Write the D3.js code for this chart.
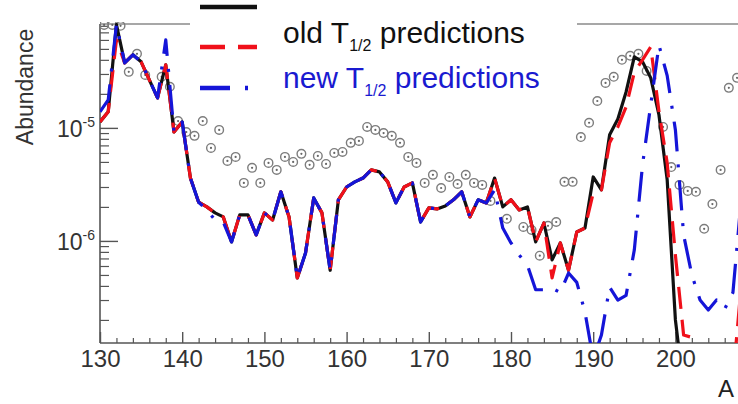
<!DOCTYPE html>
<html>
<head>
<meta charset="utf-8">
<script src="https://cdn.jsdelivr.net/npm/d3@7"></script>
<style>
  body { margin: 0; background: #fff; }
  svg { display: block; font-family: 'Liberation Sans', Arial, Helvetica, sans-serif; }
</style>
</head>
<body>
<div id="chart"></div>
<script>
// mass number A of the calculated curves
const massNumbers = [
  130, 131, 132, 133, 134, 135, 136, 137, 138, 139,
  140, 141, 142, 143, 144, 145, 146, 147, 148, 149,
  150, 151, 152, 153, 154, 155, 156, 157, 158, 159,
  160, 161, 162, 163, 164, 165, 166, 167, 168, 169,
  170, 171, 172, 173, 174, 175, 176, 177, 178, 179,
  180, 181, 182, 183, 184, 185, 186, 187, 188, 189,
  190, 191, 192, 193, 194, 195, 196, 197, 198, 199,
  200, 201, 202, 203, 204, 205, 206, 207, 208
]

// black solid curve (A = 130 .. 201)
const blackCurve = [
  1.13e-5, 1.39e-5, 8.2e-5, 3.76e-5, 4.43e-5, 3.84e-5, 2.66e-5, 1.84e-5, 3.61e-5, 9.2e-6,
  1.13e-5, 3.6e-6, 2.2e-6, 2.0e-6, 1.77e-6, 1.63e-6, 9.8e-7, 1.7e-6, 1.7e-6, 1.13e-6,
  1.77e-6, 1.53e-6, 2.72e-6, 1.63e-6, 4.7e-7, 7.8e-7, 2.4e-6, 1.77e-6, 5.5e-7, 2.31e-6,
  3.0e-6, 3.33e-6, 3.6e-6, 4.25e-6, 4.08e-6, 3.33e-6, 2.17e-6, 3.0e-6, 3.26e-6, 1.47e-6,
  1.96e-6, 1.92e-6, 2.04e-6, 2.31e-6, 2.72e-6, 1.63e-6, 2.31e-6, 2.17e-6, 3.6e-6, 2.0e-6,
  2.31e-6, 1.88e-6, 2.0e-6, 9.8e-7, 1.44e-6, 6.8e-7, 9.6e-7, 5.5e-7, 1.2e-6, 1.3e-6,
  3.68e-6, 2.83e-6, 8.7e-6, 1.2e-5, 2.08e-5, 4.25e-5, 3.84e-5, 2.77e-5, 1.3e-5, 3.47e-6,
  2.0e-7, 5e-8
]

// old T1/2 predictions, red dashed (A = 130 .. 208)
const oldT12 = [
  1.13e-5, 1.39e-5, 6.0e-5, 3.76e-5, 4.43e-5, 3.84e-5, 2.66e-5, 1.84e-5, 3.61e-5, 9.2e-6,
  1.13e-5, 3.6e-6, 2.2e-6, 2.0e-6, 1.77e-6, 1.63e-6, 9.8e-7, 1.7e-6, 1.7e-6, 1.13e-6,
  1.77e-6, 1.53e-6, 2.72e-6, 1.63e-6, 4.7e-7, 7.8e-7, 2.4e-6, 1.77e-6, 5.5e-7, 2.31e-6,
  3.0e-6, 3.33e-6, 3.6e-6, 4.25e-6, 4.08e-6, 3.33e-6, 2.17e-6, 3.0e-6, 3.26e-6, 1.47e-6,
  1.96e-6, 1.92e-6, 2.04e-6, 2.31e-6, 2.72e-6, 1.63e-6, 2.31e-6, 2.17e-6, 3.6e-6, 2.0e-6,
  2.31e-6, 1.88e-6, 2.0e-6, 9.8e-7, 1.44e-6, 4.7e-7, 9.6e-7, 5.5e-7, 1.2e-6, 1.3e-6,
  2.66e-6, 2.83e-6, 7.4e-6, 1.02e-5, 1.53e-5, 3.1e-5, 4.0e-5, 5.2e-5, 1.4e-5, 4.9e-6,
  7.5e-7, 1.47e-7, 1.4e-7, 5e-8, 5e-8, 5e-8, 5e-8, 6e-8, 4e-7
]

// new T1/2 predictions, blue dash-dot (A = 130 .. 208)
const newT12 = [
  1.39e-5, 1.77e-5, 8.2e-5, 3.76e-5, 4.43e-5, 3.84e-5, 2.66e-5, 1.84e-5, 6.0e-5, 9.2e-6,
  1.13e-5, 3.6e-6, 2.2e-6, 1.88e-6, 1.53e-6, 1.47e-6, 9.8e-7, 1.7e-6, 1.7e-6, 1.13e-6,
  1.77e-6, 1.53e-6, 2.72e-6, 1.63e-6, 4.7e-7, 7.8e-7, 2.4e-6, 1.77e-6, 5.5e-7, 2.31e-6,
  3.0e-6, 3.33e-6, 3.6e-6, 4.25e-6, 4.08e-6, 3.33e-6, 2.17e-6, 3.0e-6, 3.26e-6, 1.47e-6,
  1.96e-6, 1.92e-6, 2.04e-6, 2.31e-6, 2.72e-6, 1.63e-6, 2.31e-6, 2.17e-6, 2.83e-6, 1.3e-6,
  9.6e-7, 7.5e-7, 6.1e-7, 3.7e-7, 3.7e-7, 3.8e-7, 3.5e-7, 5.2e-7, 4.3e-7, 2.35e-7,
  9e-8, 1.47e-7, 3.9e-7, 3.0e-7, 3.3e-7, 8.3e-7, 4.7e-6, 1.6e-5, 5.4e-5, 2.9e-5,
  9.6e-6, 1.13e-6, 5.0e-7, 3.0e-7, 2.45e-7, 3.0e-7, 2.5e-7, 3.5e-7, 2.31e-6
]

// solar r-process abundances (grey circles)
const solarA = [
  130.5, 131.5, 132.5, 133.5, 134.5, 135.5, 137.5, 138.5, 139.5, 140.5,
  141.5, 142.5, 143.5, 144.5, 145.5, 146.5, 147.5, 148.5, 149.5, 150.5,
  151.5, 152.5, 153.5, 154.5, 155.5, 156.5, 157.5, 158.5, 159.5, 160.5,
  161.5, 162.5, 163.5, 164.5, 165.5, 166.5, 167.5, 168.5, 169.5, 170.5,
  171.5, 172.5, 173.5, 174.5, 175.5, 176.5, 177.5, 179.5, 181.5, 182.5,
  183.5, 184.5, 185.5, 186.5, 187.5, 188.5, 189.5, 190.5, 191.5, 192.5,
  193.5, 194.5, 195.5, 196.5, 198.5, 199.5, 200.5, 201.5, 202.5, 203.5,
  204.5, 205.5, 206.5, 207.5
]
const solarAbund = [
  8.15e-5, 8.15e-5, 8.0e-5, 3.13e-5, 4.52e-5, 2.94e-5, 2.83e-5, 2.31e-5, 1.15e-5, 9.2e-6,
  8.5e-6, 1.15e-5, 6.65e-6, 9.6e-6, 5.1e-6, 5.54e-6, 3.26e-6, 4.43e-6, 3.26e-6, 4.9e-6,
  4.25e-6, 5.54e-6, 5.0e-6, 5.89e-6, 4.71e-6, 5.65e-6, 4.8e-6, 6.0e-6, 6.13e-6, 7.37e-6,
  7.67e-6, 1.02e-5, 9.6e-6, 9.0e-6, 8.5e-6, 7.37e-6, 5.54e-6, 4.9e-6, 3.26e-6, 3.84e-6,
  2.94e-6, 3.68e-6, 3.19e-6, 3.84e-6, 3.26e-6, 3.13e-6, 2.26e-6, 1.57e-6, 1.33e-6, 1.25e-6,
  7.4e-7, 1.36e-6, 1.47e-6, 3.33e-6, 3.33e-6, 8.3e-6, 1.11e-5, 1.73e-5, 2.5e-5, 2.83e-5,
  4.0e-5, 4.34e-5, 4.52e-5, 3.19e-5, 1.02e-5, 4.5e-6, 3.13e-6, 2.77e-6, 2.72e-6, 1.28e-6,
  2.12e-6, 4.25e-6, 2.26e-5, 2.77e-5
]

// axis ticks
const xTicks = [130, 140, 150, 160, 170, 180, 190, 200]
const yMajorTicks = [1e-6, 1e-5]
const yTickExponents = ['-6', '-5']

const width = 738
const height = 404
const plot = { left: 100, top: 24, bottom: 343, right: 738 }

const svg = d3.select('#chart').append('svg')
  .attr('width', width)
  .attr('height', height)

const x = d3.scaleLinear()
  .domain([130, 210])
  .range([plot.left, plot.left + 80 * 8.22])

const y = d3.scaleLog()
  .domain([1.25e-7, 8.3e-5])
  .range([plot.bottom, plot.top])

svg.append('clipPath').attr('id', 'clip')
  .append('rect')
  .attr('x', plot.left)
  .attr('y', plot.top - 2)
  .attr('width', plot.right - plot.left)
  .attr('height', plot.bottom - plot.top + 2)

// top frame line (legend box covers the middle of it)
svg.append('line')
  .attr('x1', plot.left).attr('x2', plot.right)
  .attr('y1', plot.top).attr('y2', plot.top)
  .attr('stroke', '#8a8a8a')
  .attr('stroke-width', 1.5)

// x axis
const xMinor = d3.range(132, 210, 2).filter(d => d % 10 !== 0)
svg.append('g')
  .attr('transform', `translate(0,${plot.bottom})`)
  .call(d3.axisBottom(x).tickValues(xMinor).tickSize(-5).tickFormat(''))
  .call(g => g.select('.domain').remove())
  .call(g => g.selectAll('line').attr('stroke', '#555').attr('stroke-width', 1.2))

const gx = svg.append('g')
  .attr('transform', `translate(0,${plot.bottom})`)
  .call(d3.axisBottom(x).tickValues(xTicks).tickSize(-11).tickFormat(d3.format('d')))
gx.select('.domain').remove()
gx.selectAll('line').attr('stroke', '#555').attr('stroke-width', 1.4)
gx.selectAll('text')
  .attr('y', 24)
  .attr('dy', 0)
  .attr('fill', '#333')
  .style('font-size', '24px')

svg.append('line')
  .attr('x1', plot.left).attr('x2', plot.right)
  .attr('y1', plot.bottom).attr('y2', plot.bottom)
  .attr('stroke', '#555')
  .attr('stroke-width', 1.6)

// y axis
const yMinor = []
;[-7, -6, -5].forEach(e => {
  for (let k = 2; k <= 9; k++) {
    const v = k * Math.pow(10, e)
    if (v >= 1.25e-7 && v <= 8.3e-5) yMinor.push(v)
  }
})
svg.append('g')
  .attr('transform', `translate(${plot.left},0)`)
  .call(d3.axisLeft(y).tickValues(yMinor).tickSize(-9).tickFormat(''))
  .call(g => g.select('.domain').remove())
  .call(g => g.selectAll('line').attr('stroke', '#555').attr('stroke-width', 1.2))

const gy = svg.append('g')
  .attr('transform', `translate(${plot.left},0)`)
  .call(d3.axisLeft(y).tickValues(yMajorTicks).tickSize(-18).tickFormat(''))
gy.select('.domain').remove()
gy.selectAll('line').attr('stroke', '#555').attr('stroke-width', 1.4)
gy.selectAll('.tick').each(function (d, i) {
  const t = d3.select(this).append('text')
    .attr('x', -5)
    .attr('y', 9)
    .attr('text-anchor', 'end')
    .attr('fill', '#333')
  t.append('tspan').style('font-size', '23px').text('10')
  t.append('tspan').attr('dy', -10).style('font-size', '14px').text(yTickExponents[i])
})

svg.append('line')
  .attr('x1', plot.left).attr('x2', plot.left)
  .attr('y1', plot.top).attr('y2', plot.bottom)
  .attr('stroke', '#555')
  .attr('stroke-width', 1.6)

svg.append('text')
  .attr('transform', 'translate(33,87) rotate(-90)')
  .attr('text-anchor', 'middle')
  .attr('fill', '#333')
  .style('font-size', '23px')
  .text('Abundance')

// axis title, only its first letter fits in the picture
svg.append('text')
  .attr('x', 718)
  .attr('y', 397)
  .attr('fill', '#222')
  .style('font-size', '24px')
  .text('A')

// data
const plotArea = svg.append('g').attr('clip-path', 'url(#clip)')

const solar = d3.zip(solarA, solarAbund)
const dots = plotArea.append('g')
  .selectAll('g')
  .data(solar)
  .join('g')
  .attr('transform', d => `translate(${x(d[0])},${y(d[1])})`)
dots.append('circle')
  .attr('r', 4.3)
  .attr('fill', 'none')
  .attr('stroke', '#7d7d7d')
  .attr('stroke-width', 1.4)
dots.append('circle')
  .attr('r', 1.1)
  .attr('fill', '#666')

const line = d3.line()
  .x(d => x(d[0]))
  .y(d => y(d[1]))

const series = [
  { values: blackCurve, color: '#111', dash: null },
  { values: oldT12, color: '#f0101a', dash: '22,11' },
  { values: newT12, color: '#1515d8', dash: '30,13,3,13' }
]

series.forEach(s => {
  plotArea.append('path')
    .datum(s.values.map((v, i) => [massNumbers[i], v]))
    .attr('fill', 'none')
    .attr('stroke', s.color)
    .attr('stroke-width', 3.2)
    .attr('stroke-linejoin', 'round')
    .attr('stroke-dasharray', s.dash)
    .attr('d', line)
})

// legend
const legend = svg.append('g')
legend.append('rect')
  .attr('x', 190).attr('y', 0)
  .attr('width', 387).attr('height', 100)
  .attr('fill', '#fff')

const legendRows = [
  { color: '#111', dash: null, y: 7 },
  { color: '#f0101a', dash: '25,13', y: 47, label: 'old', textColor: '#111', base: 43 },
  { color: '#1515d8', dash: '30,15,3,40', y: 88, label: 'new', textColor: '#1a1ad0', base: 88 }
]

legendRows.forEach(r => {
  legend.append('line')
    .attr('x1', 200).attr('x2', 257)
    .attr('y1', r.y).attr('y2', r.y)
    .attr('stroke', r.color)
    .attr('stroke-width', 4.5)
    .attr('stroke-dasharray', r.dash)
  if (!r.label) return
  const t = legend.append('text')
    .attr('x', 283)
    .attr('y', r.base)
    .attr('fill', r.textColor)
    .style('font-size', '30px')
  t.append('tspan').text(r.label + ' T')
  t.append('tspan').attr('dy', 8).style('font-size', '16px').text('1/2')
  t.append('tspan').attr('dy', -8).text(' predictions')
})
</script>
</body>
</html>
